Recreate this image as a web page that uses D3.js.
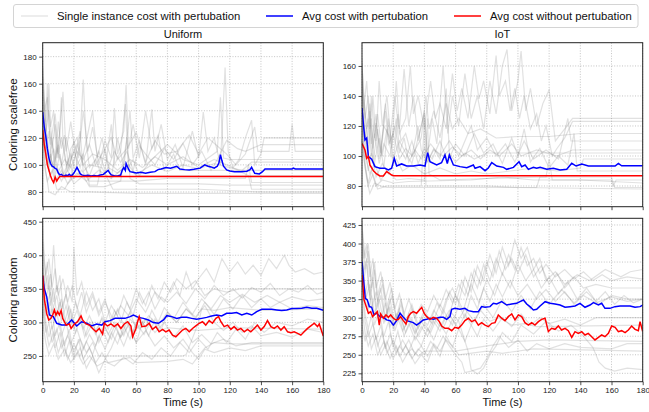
<!DOCTYPE html>
<html><head><meta charset="utf-8">
<script src="https://cdn.jsdelivr.net/npm/d3@7"></script>
<style>body{margin:0;background:#fff}svg{display:block;font-family:"Liberation Sans",Arial,Helvetica,sans-serif}</style>
</head><body>
<script>
// ---------------- DATA ----------------
const timeTicks = [0,20,40,60,80,100,120,140,160,180];
const yTicksUniformScalefree = [80,100,120,140,160,180];
const yTicksIotScalefree = [80,100,120,140,160];
const yTicksUniformRandom = [250,300,350,400,450];
const yTicksIotRandom = [225,250,275,300,325,350,375,400,425];
const columnTitles = ["Uniform","IoT"];
const rowLabels = ["Coloring scalefree","Coloring random"];
const legendLabels = ["Single instance cost with pertubation","Avg cost with pertubation","Avg cost without pertubation"];

// [time (s), cost]
const avgPertUniformScalefree = [[0,139],[1,128],[2,121],[3,112],[4,105],[5,101],[6,99],[7,98.5],[8,97.5],[9,96.8],[10,94],[11,92.6],[12,93],[13,92],[14,91.8],[15,92.5],[16,92],[17,93],[18,92],[19,92.5],[20,94],[21,96],[22,98.2],[23,96],[24,93.5],[25,92.6],[27,92],[29,92.3],[31,91.8],[33,92.2],[35,91.8],[37,92.5],[39,93],[41,95],[42,96],[43,94],[44,92.6],[46,92],[48,91.8],[50,92.5],[51,96],[52,98],[53,96],[53.5,101],[55,97],[56,95],[58,94.5],[60,94],[63,94.5],[66,93.8],[69,94.5],[72,95],[74,96.5],[76,97],[79,98],[82,97.5],[84,98.2],[86,99],[88,97],[91,96.5],[94,96.3],[97,96.8],[101,97.6],[104,100],[106,99],[108,98.5],[110,97.6],[112,99],[113,101.3],[114,107.5],[115,103],[116,99],[118,96.3],[120,95.5],[123,95],[127,95],[131,95.3],[133,96.5],[134,98.2],[135,96],[136,93.8],[139,93.3],[141,95],[142.6,97],[150,97],[160,97],[160.8,97.6],[162,97],[180,97]];
const avgNoPertUniformScalefree = [[0,126],[1,115],[2,108],[3,100],[4,96],[5,92],[6,89],[7,87],[8,91],[9,88],[10,90],[11,91.5],[180,91.5]];
const avgPertIotScalefree = [[0,132],[1,120],[1.9,110.7],[3,112],[4.1,99.6],[6.2,97.8],[8.3,92.9],[11.5,91.8],[14.7,91.8],[16.9,90.7],[19,91.8],[20.7,98.4],[22.2,93.3],[25.4,94.7],[28.6,93.3],[32.9,93.3],[37.2,94],[40.4,93.3],[42.1,102.2],[43.6,96.2],[47.9,94],[51,95.5],[53.2,100.7],[54.7,95],[56,100.7],[58.6,94],[62.9,92.9],[67.2,92.2],[71.4,94],[72.5,91.8],[75.7,92.9],[78.9,90.2],[81,92],[83.2,95.6],[86.4,93.3],[90.7,92.4],[92.8,91.1],[97.1,92.4],[100.7,96.2],[102.4,92.9],[104.6,94],[106.7,91.1],[109.9,92.4],[112,91.8],[114.2,92.4],[118.5,91.1],[122.7,91.8],[127,90.7],[131.3,91.1],[134.5,95.1],[137.3,93.3],[140.9,94.7],[145.2,93.3],[152,93.3],[162.3,93.3],[164.4,95.1],[166.5,93.5],[180,93.5]];
const avgNoPertIotScalefree = [[0,108.4],[1.9,104],[3,98.4],[4.1,99.6],[5.1,94],[7.3,90.2],[9.4,88],[11.5,86.7],[13.7,86.7],[15.8,89.6],[17.5,88.4],[19,87.3],[20.5,86.8],[180,86.8]];
const avgPertUniformRandom = [[0,369],[1,350],[2.6,338],[4.3,311],[6.8,308.6],[9,298.7],[12.2,296.2],[15.4,296],[18.6,303.6],[21.8,294.7],[25,301],[28.2,298.7],[31.4,294.7],[34.6,297.7],[37.9,296],[40,301],[43.2,302.6],[46.4,306],[49.6,306],[52.8,306],[56.1,308.6],[58.2,311],[61.4,307.5],[64.6,306],[67.8,303.6],[71,299.7],[74.2,298.7],[77.5,303.6],[79.6,310],[82.8,308.6],[86,306],[89.2,307.5],[92.4,307.5],[95.6,306],[98.8,304.6],[102,306],[105.2,307.5],[108.4,309.6],[111.6,311],[114.8,309.6],[118,313.6],[121.2,313.6],[124.4,314.6],[127.7,311],[130.9,313.6],[134.1,311],[137.3,316],[140.5,319.5],[143.7,319.5],[146.9,319.5],[150.1,318.6],[153.3,317.6],[156.6,318.6],[159.8,320.6],[163,320.6],[166.2,321],[169.4,322.6],[172.6,321],[175.8,321],[180,318]];
const avgNoPertUniformRandom = [[0,370],[1.1,334],[2.6,312.6],[3.9,303.6],[5.3,306],[6.4,311],[7.5,318.6],[8.5,311],[9.6,316],[10.7,311],[11.8,317.6],[12.8,306],[13.9,301],[15,296],[17.1,297.7],[18.2,291],[20.3,297.7],[22.4,301],[24.6,309.6],[25.6,303.6],[27.8,297.7],[29.9,296],[32,291],[34.2,286],[36.3,291],[38.4,282.6],[39.5,298.7],[41.6,294.7],[43.8,297.7],[45.9,293.7],[48.1,297.7],[50.2,291],[52.3,297.7],[54.5,301],[56.6,294.7],[57.7,278.6],[59.8,291],[60.9,301],[61.9,308.6],[63.6,293.7],[66.2,294.7],[68.3,298.7],[70.4,289.6],[72.6,293.7],[74.7,286],[76.9,289.6],[79,286],[81.1,288.6],[83.3,281],[85.4,278.6],[87.5,283.6],[89.7,288.6],[91.8,291],[94,286],[96.1,291],[98.2,294.7],[100.4,298.7],[102.5,301],[104.6,296],[106.8,302.6],[108.9,298.7],[111.1,306],[112.8,308.6],[114.3,301],[116.4,293.7],[118.6,296],[120.7,289.6],[122.8,293.7],[125,288.6],[127.1,291],[129.3,286],[131.4,289.6],[133.5,286],[135.7,291],[137.8,296],[140,288.6],[142.1,293.7],[144.2,302.6],[146.4,293.7],[148.5,291],[150.6,294.7],[152.8,288.6],[154.9,293.7],[157.1,286],[159.2,284.6],[161.3,286],[163.5,283.6],[165.6,281],[167.7,286],[169.9,291],[172,294.7],[174.2,298.7],[176.3,293.7],[177.4,297.7],[180,279.6]];
const avgPertIotRandom = [[0,375.6],[1.3,344],[2.1,326],[3.4,324],[4.7,315],[6.2,314],[7.7,303.7],[9.4,306],[11.5,301.4],[13.7,300.5],[15.8,297],[18,296],[20.1,290],[22.2,296],[24.4,306],[26.5,300.5],[28.6,296],[30.8,294.7],[32.9,293.3],[35,290],[37.2,293.3],[39.3,297],[41.5,297.8],[43.6,299.2],[45.7,297.8],[47.9,299.2],[50,300.5],[52.2,300.5],[54.3,297.8],[56.4,301.4],[57.5,311.3],[59.6,312.6],[62.8,311.3],[66,312.6],[68.2,309.5],[71.4,308.1],[74.6,308.1],[76.7,314.9],[78.9,314],[82.1,314.9],[84.2,319.4],[86.4,318.5],[89.6,321.6],[92.8,317.1],[96,318.5],[99.2,319.4],[101.3,321.6],[103.5,323.9],[105.6,318.5],[107.7,314.9],[109.9,310.4],[112,311.3],[114.2,315.8],[117.4,321.6],[120.6,319.4],[123.8,318.5],[127,317.1],[130.2,314],[133.4,314.9],[136.6,315.8],[139.8,319.4],[143,314],[146.2,317.1],[148.4,320.3],[151.6,317.1],[153.7,319.4],[155.8,312.6],[159,312.6],[162.2,314.9],[165.5,315.8],[168.7,315.8],[171.9,315.8],[175.1,314],[178.3,314.9],[180,317]];
const avgNoPertIotRandom = [[0,357.6],[1.3,324],[2.6,315.8],[4.1,306],[5.6,308.1],[6.8,301.4],[8.3,305],[9.8,308.1],[11.1,290],[12,305],[13.7,299.2],[15.4,303.7],[16.9,300.5],[18.4,303.7],[20.1,299.2],[21.8,297],[23.3,297.8],[24.8,301.4],[26.5,296],[28.2,291.5],[29.7,301.4],[31.2,306],[32.9,308.1],[35,306],[36.8,310.4],[38.3,314],[39.8,306],[41.5,301.4],[43.6,297.8],[45.7,300.5],[47.9,299.2],[49.6,294.7],[51.1,288.8],[53.2,285.7],[55.4,285.7],[57.5,282.5],[59.6,287],[61.8,285.7],[63.9,290],[66,296],[68.2,299.2],[70.3,294.7],[72.5,297],[74.6,290],[76.7,293.3],[78.9,290],[81,287.9],[83.2,292.4],[85.3,293.3],[87.4,303.7],[89.6,299.2],[91.7,296],[93.8,301.4],[96,305],[98.1,297],[100.3,303.7],[102.4,301.4],[104.5,293.3],[106.7,290],[108.8,293.3],[110.9,290],[113.1,294.7],[115.2,297.8],[117.4,299.2],[119.5,281.2],[121.6,285.7],[123.8,284.3],[125.9,288.8],[128,283.4],[130.2,285.7],[132.3,282.5],[134.5,273.5],[136.6,281.2],[138.7,278.9],[140.9,281.2],[143,276.7],[145.1,278.9],[147.3,274.4],[149.4,270],[151.6,273.5],[153.7,276.7],[155.8,274.4],[158,278.9],[160.1,288.8],[162.3,287],[164.4,281.2],[166.5,282.5],[168.7,279.8],[170.8,283.4],[172.9,288.8],[175.1,284.3],[177.2,282.5],[178.3,294.7],[180,281.2]];

// single-instance runs with pertubation, [time (s), cost]
const singleUniformScalefree = [
 [[0,178],[1,150],[2,132],[3,160],[4,128],[6,112],[8,130],[10,105],[12,150],[13,118],[15,100],[18,108],[21,95],[24,120],[26,163],[28,115],[30,98],[34,104],[38,92],[42,98],[48,94],[55,100],[60,92],[110,92],[140,92],[180,92]],
 [[0,165],[2,125],[4,140],[6,118],[8,100],[10,132],[12,112],[14,122],[17,96],[20,118],[23,105],[26,140],[29,110],[32,128],[36,100],[40,118],[44,105],[46,142],[48,108],[52,125],[53.5,159],[55,112],[58,130],[62,105],[66,140],[70,112],[74,122],[78,96],[84,108],[88,96],[140,96],[180,96]],
 [[0,150],[2,118],[4,160],[5,128],[7,140],[9,105],[11,125],[13,154],[15,110],[18,132],[22,100],[26,108],[30,85],[35,85],[40,112],[44,90],[48,120],[52,98],[56,140],[58,105],[62,118],[66,100],[70,141],[72,110],[76,130],[80,104],[85,115],[90,98],[96,125],[100,105],[103,139],[106,110],[110,120],[114,100],[117,172],[119,110],[122,98],[126,104],[130,120],[134,133],[136,100],[140,108],[142,120],[180,120]],
 [[0,140],[1,100],[3,88],[6,96],[9,82],[14,82],[18,90],[24,125],[26,95],[30,100],[38,98],[45,82],[100,82],[140,80],[180,80]],
 [[0,132],[2,112],[4,95],[6,120],[8,92],[11,108],[14,90],[18,112],[22,120],[26,100],[30,92],[36,110],[40,96],[44,130],[46,100],[50,110],[53,145],[55,98],[58,104],[62,92],[70,104],[80,115],[90,104],[100,100],[112,110],[114,150],[116,105],[120,104],[145,104],[180,104]],
 [[0,120],[2,95],[4,80],[8,78],[12,84],[18,80],[30,80],[60,79],[180,79]],
 [[0,155],[2,130],[4,110],[7,98],[10,115],[13,92],[17,104],[20,90],[25,96],[30,88],[60,88],[80,90],[130,90],[132,100],[134,87],[180,87]],
 [[0,172],[1,140],[3,150],[5,115],[8,138],[10,108],[12,120],[16,96],[20,110],[24,98],[28,118],[32,140],[35,105],[38,120],[42,98],[46,110],[50,102],[54,110],[58,96],[62,114],[66,108],[72,100],[78,112],[84,104],[90,116],[96,100],[102,110],[108,96],[112,104],[118,118],[125,112],[130,110],[140,115],[180,115]],
 [[0,128],[2,105],[5,92],[8,100],[12,88],[16,96],[20,86],[26,92],[30,84],[40,84],[50,88],[54,120],[56,90],[62,86],[100,86],[120,85],[180,85]],
 [[0,145],[2,120],[4,100],[7,112],[10,95],[14,104],[18,98],[22,110],[26,104],[30,115],[34,100],[38,108],[44,120],[48,104],[54,112],[60,124],[66,102],[72,118],[78,108],[86,110],[94,122],[100,108],[106,120],[112,114],[118,108],[124,100],[130,108],[136,128],[138,110],[158,110],[160,130],[162,110],[180,110]],
 [[0,160],[1,118],[3,100],[5,108],[8,88],[12,96],[16,86],[22,94],[28,88],[36,96],[44,90],[52,98],[60,93],[70,100],[80,95],[90,100],[100,97],[110,101],[120,98],[128,96],[134,102],[180,102]],
 [[0,135],[2,110],[4,125],[6,98],[9,112],[12,100],[15,120],[18,104],[22,115],[26,100],[32,108],[40,104],[48,96],[56,104],[64,98],[72,106],[80,100],[90,106],[100,98],[110,104],[122,98],[132,92],[134,82],[180,82]]
];
const singleIotScalefree = [
 [[0,165],[1,130],[3,150],[5,118],[7,140],[9,110],[11,150],[13,120],[16,140],[19,105],[22,150],[24,118],[27,158],[30,120],[33,140],[36,110],[40,130],[42,100],[45,125],[48,108],[52,160],[55,115],[58,140],[62,120],[66,155],[70,125],[74,140],[78,118],[82,150],[86,128],[90,160],[93,171],[96,130],[100,150],[102,170],[105,130],[108,145],[112,120],[116,135],[120,144],[124,110],[130,118],[135,125],[180,125]],
 [[0,150],[2,115],[4,100],[6,125],[8,95],[11,112],[14,92],[17,125],[20,98],[24,110],[28,102],[32,95],[36,112],[40,128],[42,96],[46,105],[50,98],[54,145],[56,102],[60,96],[66,102],[72,98],[80,102],[180,102]],
 [[0,140],[1,100],[3,85],[5,75],[8,82],[12,80],[16,79],[112,79],[114,86],[160,86],[162,79],[180,79]],
 [[0,160],[2,128],[4,105],[6,140],[8,112],[10,128],[13,100],[16,118],[20,95],[23,128],[25,110],[28,115],[32,100],[38,112],[41,140],[43,118],[46,130],[50,112],[54,135],[58,118],[62,125],[68,115],[76,118],[86,112],[100,113],[120,113],[140,115],[180,115]],
 [[0,125],[2,100],[5,88],[8,95],[12,84],[16,90],[22,84],[30,85],[40,84],[42,125],[43,88],[50,84],[80,85],[118,86],[120,98],[122,84],[140,84],[180,82]],
 [[0,155],[1,120],[3,108],[5,130],[7,95],[10,118],[12,102],[15,135],[18,108],[21,120],[24,102],[27,112],[30,96],[34,104],[38,98],[44,108],[50,100],[56,110],[62,100],[70,120],[74,104],[80,112],[86,100],[92,108],[98,96],[104,110],[110,98],[118,104],[126,98],[132,125],[134,110],[180,110]],
 [[0,132],[2,110],[4,90],[6,102],[9,86],[13,95],[17,88],[22,98],[26,90],[32,94],[40,88],[50,92],[60,88],[70,90],[80,88],[95,90],[110,92],[125,90],[140,92],[142,98],[180,98]],
 [[0,120],[2,95],[4,80],[7,88],[10,78],[16,80],[38,80],[40,125],[41,80],[80,80],[100,79],[180,78]],
 [[0,145],[2,125],[4,140],[6,108],[9,128],[11,98],[14,120],[18,112],[21,140],[24,115],[28,125],[31,160],[33,128],[36,140],[40,118],[44,150],[47,125],[50,135],[54,118],[58,155],[61,130],[64,145],[68,125],[72,160],[75,138],[78,150],[82,128],[86,167],[88,140],[92,150],[95,130],[98,145],[101,125],[104,140],[108,118],[112,128],[115,110],[118,120],[122,100],[125,105],[130,112],[135,123],[180,123]],
 [[0,138],[2,112],[4,125],[6,100],[8,115],[11,95],[14,108],[18,100],[22,125],[24,105],[28,98],[32,110],[36,95],[40,105],[45,98],[50,110],[55,96],[60,108],[66,100],[72,115],[78,102],[84,108],[90,95],[96,112],[100,100],[104,118],[108,96],[114,105],[120,92],[126,100],[132,94],[136,115],[138,90],[180,90]],
 [[0,110],[2,92],[4,82],[6,90],[9,80],[13,84],[20,82],[30,83],[70,84],[90,86],[110,84],[160,84],[161,80],[163,84],[180,84]],
 [[0,162],[1,140],[3,118],[5,135],[7,105],[9,122],[12,100],[15,130],[17,108],[20,115],[24,98],[28,105],[32,100],[36,120],[38,104],[42,96],[46,104],[52,100],[58,106],[64,100],[70,104],[76,98],[82,104],[88,100],[96,108],[102,100],[112,104],[125,100],[135,104],[180,104]]
];
const singleUniformRandom = [
 [[0,450],[1,390],[3,350],[5,372],[7,330],[9,355],[12,320],[15,342],[18,300],[21,330],[24,310],[28,345],[32,318],[36,335],[40,300],[44,325],[48,310],[52,340],[56,320],[60,350],[64,328],[68,345],[72,320],[76,338],[80,330],[86,345],[92,328],[98,350],[104,335],[110,355],[116,340],[122,350],[128,336],[134,352],[140,345],[146,358],[152,340],[158,350],[164,345],[170,355],[176,342],[180,345]],
 [[0,380],[2,340],[4,300],[6,320],[8,280],[11,300],[14,265],[17,290],[20,250],[23,275],[26,245],[30,262],[34,240],[38,255],[42,240],[56,248],[60,240],[80,242],[90,245],[96,238],[100,250],[104,262],[110,270],[120,268],[180,268]],
 [[0,410],[1,360],[3,390],[5,340],[7,415],[9,345],[11,370],[13,320],[16,355],[19,330],[20,412],[22,340],[25,360],[28,325],[32,345],[36,315],[40,335],[44,300],[48,320],[52,295],[56,315],[60,290],[66,305],[72,285],[78,300],[84,278],[90,295],[96,270],[102,282],[108,268],[116,275],[124,265],[134,270],[180,270]],
 [[0,340],[2,300],[4,278],[6,295],[8,262],[11,285],[14,250],[17,272],[20,245],[24,262],[28,232],[32,250],[36,225],[40,245],[44,262],[48,285],[52,265],[56,290],[60,270],[64,300],[68,280],[72,305],[76,290],[80,312],[86,300],[92,320],[98,305],[104,330],[110,312],[116,335],[122,320],[128,340],[134,322],[140,335],[146,322],[152,330],[160,320],[170,325],[180,322]],
 [[0,360],[2,320],[5,345],[8,305],[11,330],[14,300],[17,325],[20,290],[24,310],[28,280],[32,300],[36,270],[40,292],[44,275],[48,298],[52,280],[56,305],[62,290],[68,310],[74,295],[80,315],[86,300],[92,320],[98,308],[104,325],[110,300],[116,288],[122,300],[128,285],[134,295],[140,280],[150,285],[160,278],[170,290],[180,285]],
 [[0,300],[2,270],[4,252],[7,268],[10,245],[14,260],[18,240],[22,255],[26,238],[30,250],[35,235],[40,242],[46,235],[52,248],[58,238],[64,255],[70,245],[76,262],[82,250],[88,270],[94,255],[100,275],[106,260],[112,285],[118,270],[124,290],[130,275],[136,300],[142,285],[150,300],[160,295],[170,305],[180,300]],
 [[0,420],[2,370],[4,395],[6,352],[8,380],[10,340],[13,365],[16,330],[19,355],[22,320],[25,345],[28,315],[32,340],[36,310],[40,330],[45,305],[50,325],[55,310],[60,335],[66,315],[72,345],[78,330],[84,360],[88,340],[92,375],[96,350],[100,365],[105,380],[110,360],[115,395],[120,375],[125,390],[130,372],[135,385],[140,370],[145,395],[150,380],[155,400],[158,385],[162,375],[168,380],[174,372],[180,375]],
 [[0,330],[2,290],[4,265],[7,285],[10,255],[13,275],[16,245],[20,268],[24,250],[28,272],[32,252],[36,280],[40,260],[44,285],[48,268],[52,295],[56,275],[60,300],[65,282],[70,305],[75,288],[80,292],[90,290],[100,288],[110,290],[120,292],[180,290]],
 [[0,395],[1,350],[3,370],[5,325],[7,350],[9,310],[12,335],[15,295],[18,320],[21,285],[24,305],[27,278],[30,300],[34,282],[38,308],[42,290],[46,318],[50,300],[54,330],[58,310],[62,345],[66,325],[70,355],[74,335],[78,360],[82,345],[86,365],[92,350],[98,362],[104,340],[110,350],[118,345],[126,350],[180,350]],
 [[0,350],[2,310],[4,330],[6,290],[9,315],[12,280],[15,300],[18,268],[22,290],[26,260],[30,282],[34,265],[38,290],[42,270],[46,295],[50,278],[54,300],[58,285],[62,310],[66,292],[70,318],[74,300],[78,322],[84,305],[90,330],[96,312],[102,335],[108,320],[114,340],[120,330],[128,342],[136,330],[144,340],[152,330],[160,338],[170,332],[180,335]],
 [[0,375],[2,335],[4,355],[6,315],[9,340],[12,302],[15,325],[18,295],[22,318],[26,290],[30,310],[34,288],[38,305],[42,282],[46,300],[50,278],[55,295],[60,270],[66,288],[72,265],[78,280],[84,262],[90,275],[96,255],[100,245],[104,260],[110,255],[120,262],[130,258],[140,265],[180,265]],
 [[0,320],[2,285],[4,300],[6,270],[9,290],[12,262],[16,280],[20,258],[24,275],[28,255],[32,270],[36,250],[90,250],[92,252],[100,300],[102,320],[110,318],[120,322],[140,318],[180,320]]
];
const singleIotRandom = [
 [[0,425],[2,380],[4,400],[6,350],[8,375],[10,330],[13,355],[16,315],[19,340],[22,300],[25,325],[28,295],[32,318],[36,290],[40,310],[44,295],[48,320],[52,305],[56,335],[60,318],[64,350],[68,330],[72,365],[76,345],[80,375],[84,355],[88,390],[92,365],[96,380],[100,360],[105,385],[110,355],[115,370],[120,345],[125,360],[130,340],[136,355],[142,340],[150,345],[160,340],[180,340]],
 [[0,380],[2,340],[4,310],[6,330],[8,290],[11,310],[14,275],[17,295],[20,260],[23,282],[26,255],[30,270],[34,250],[38,262],[42,248],[46,265],[50,255],[54,270],[58,262],[62,250],[80,255],[90,252],[110,258],[180,255]],
 [[0,400],[1,360],[3,380],[5,330],[7,355],[9,315],[12,340],[15,300],[18,325],[21,290],[24,312],[27,285],[30,305],[34,280],[38,300],[42,290],[46,310],[50,298],[54,325],[58,340],[62,320],[66,355],[70,335],[74,370],[78,350],[82,385],[86,360],[90,395],[94,370],[98,405],[102,380],[106,395],[110,365],[114,380],[118,350],[124,362],[130,345],[138,358],[146,350],[156,365],[166,355],[172,362],[180,365]],
 [[0,330],[2,295],[4,275],[7,292],[10,262],[13,280],[16,252],[20,270],[24,248],[28,262],[32,245],[36,258],[40,250],[44,268],[48,258],[52,275],[56,262],[60,250],[64,240],[66,226],[70,228],[76,232],[80,245],[84,262],[88,275],[94,260],[100,270],[106,255],[112,265],[120,258],[130,265],[140,260],[160,258],[170,265],[180,265]],
 [[0,360],[2,322],[5,345],[8,305],[11,325],[14,292],[17,315],[20,285],[24,305],[28,280],[32,298],[36,275],[40,292],[44,280],[48,300],[52,285],[56,305],[60,290],[66,312],[72,295],[78,318],[84,300],[90,325],[96,308],[102,330],[108,312],[114,335],[120,318],[128,338],[136,320],[144,335],[152,318],[160,330],[170,325],[180,325]],
 [[0,310],[2,280],[4,262],[7,278],[10,250],[14,268],[18,245],[22,262],[26,240],[30,255],[34,238],[38,250],[42,240],[46,262],[50,248],[54,275],[58,260],[62,285],[66,268],[70,290],[74,275],[78,298],[84,282],[90,300],[96,288],[102,305],[108,290],[114,300],[120,292],[130,298],[140,290],[150,300],[180,300]],
 [[0,415],[2,365],[4,390],[6,340],[8,365],[10,322],[13,345],[16,305],[19,330],[22,298],[25,318],[28,290],[32,312],[36,285],[40,305],[45,292],[50,318],[55,300],[60,330],[65,310],[70,345],[75,320],[80,352],[85,330],[90,360],[95,340],[100,372],[105,350],[110,365],[115,340],[120,355],[126,332],[132,348],[138,325],[144,340],[150,322],[156,335],[162,318],[168,330],[174,320],[180,325]],
 [[0,345],[2,305],[4,285],[6,302],[9,270],[12,290],[15,258],[18,278],[22,252],[26,270],[30,255],[34,275],[38,262],[42,285],[46,270],[50,292],[54,278],[58,298],[62,285],[66,305],[70,290],[76,310],[82,295],[88,300],[96,290],[104,292],[112,288],[180,290]],
 [[0,370],[2,332],[4,350],[6,312],[9,335],[12,298],[15,320],[18,288],[22,305],[26,282],[30,298],[34,278],[38,295],[42,282],[46,300],[50,288],[56,310],[62,295],[68,255],[70,230],[74,224],[78,232],[82,250],[86,262],[90,280],[96,268],[102,290],[110,278],[118,295],[126,282],[134,290],[142,275],[148,260],[152,240],[156,232],[162,228],[170,232],[180,230]],
 [[0,395],[1,350],[3,372],[5,325],[7,348],[9,308],[12,330],[15,295],[18,315],[21,282],[24,302],[27,275],[30,292],[34,270],[38,288],[42,275],[46,295],[50,282],[54,302],[58,290],[62,318],[66,300],[70,330],[74,312],[78,340],[82,322],[86,345],[90,328],[95,350],[100,330],[106,345],[112,325],[118,338],[124,322],[130,335],[136,318],[142,330],[150,320],[160,328],[170,322],[180,325]],
 [[0,290],[2,268],[4,285],[6,258],[9,275],[12,250],[16,268],[20,245],[24,262],[28,250],[32,258],[36,248],[40,255],[60,255],[80,262],[100,268],[120,270],[180,268]],
 [[0,430],[1,380],[3,400],[5,355],[7,380],[9,340],[12,362],[15,325],[18,348],[21,312],[24,332],[27,305],[30,325],[34,300],[38,318],[42,308],[46,330],[50,315],[54,338],[58,320],[62,345],[66,330],[70,360],[74,340],[78,372],[82,350],[86,380],[90,358],[94,385],[98,365],[102,395],[106,370],[110,380],[114,360],[118,372],[124,355],[130,365],[136,352],[142,362],[148,350],[154,358],[160,350],[170,355],[180,352]]
];

// ---------------- DRAW ----------------
const W = 649, H = 412;
const svg = d3.select("body").append("svg").attr("width", W).attr("height", H);
const colX = [[42.7, 323.3], [362, 642.7]];
const rowY = [[42.7, 206.7], [218.3, 381.7]];
const panels = [
  {c:0, r:0, dom:[69.1,190.3], ticks:yTicksUniformScalefree, gray:singleUniformScalefree, blue:avgPertUniformScalefree, red:avgNoPertUniformScalefree},
  {c:1, r:0, dom:[66.2,175.5], ticks:yTicksIotScalefree, gray:singleIotScalefree, blue:avgPertIotScalefree, red:avgNoPertIotScalefree},
  {c:0, r:1, dom:[211.7,455], ticks:yTicksUniformRandom, gray:singleUniformRandom, blue:avgPertUniformRandom, red:avgNoPertUniformRandom},
  {c:1, r:1, dom:[213.7,434], ticks:yTicksIotRandom, gray:singleIotRandom, blue:avgPertIotRandom, red:avgNoPertIotRandom}
];

panels.forEach((p, i) => {
  const [x0, x1] = colX[p.c], [y0, y1] = rowY[p.r];
  const x = d3.scaleLinear().domain([0, 180]).range([x0, x1]);
  const y = d3.scaleLinear().domain(p.dom).range([y1, y0]);
  const clipId = "clip" + i;
  svg.append("clipPath").attr("id", clipId).append("rect")
    .attr("x", x0).attr("y", y0).attr("width", x1 - x0).attr("height", y1 - y0);
  const g = svg.append("g");
  // grid
  g.selectAll(".gx").data(timeTicks).join("line")
    .attr("x1", d => x(d)).attr("x2", d => x(d)).attr("y1", y0).attr("y2", y1)
    .attr("stroke", "#b5b5b5").attr("stroke-width", 0.8).attr("stroke-dasharray", "1,1.6");
  g.selectAll(".gy").data(p.ticks).join("line")
    .attr("y1", d => y(d)).attr("y2", d => y(d)).attr("x1", x0).attr("x2", x1)
    .attr("stroke", "#b5b5b5").attr("stroke-width", 0.8).attr("stroke-dasharray", "1,1.6");
  const line = d3.line().x(d => x(d[0])).y(d => y(d[1]));
  const lg = g.append("g").attr("clip-path", `url(#${clipId})`);
  p.gray.forEach(s => lg.append("path").attr("d", line(s)).attr("fill", "none")
    .attr("stroke", "#808080").attr("stroke-opacity", 0.24).attr("stroke-width", 1.2));
  lg.append("path").attr("d", line(p.blue)).attr("fill", "none").attr("stroke", "#0000ff").attr("stroke-width", 1.5);
  lg.append("path").attr("d", line(p.red)).attr("fill", "none").attr("stroke", "#ff0000").attr("stroke-width", 1.5);
  // axes
  const ya = g.append("g").attr("transform", `translate(${x0},0)`)
    .call(d3.axisLeft(y).tickValues(p.ticks).tickSize(3.5).tickPadding(2.5));
  const xa = g.append("g").attr("transform", `translate(0,${y1})`)
    .call(d3.axisBottom(x).tickValues(timeTicks).tickSize(3.5).tickPadding(2.5));
  if (p.r === 0) xa.selectAll("text").remove();
  [ya, xa].forEach(a => {
    a.select(".domain").remove();
    a.selectAll("line").attr("stroke", "#222").attr("stroke-width", 0.8);
    a.selectAll("text").attr("font-size", "8px").attr("fill", "#222")
      .attr("font-family", '"Liberation Sans",Arial,sans-serif');
  });
  g.append("rect").attr("x", x0).attr("y", y0).attr("width", x1 - x0).attr("height", y1 - y0)
    .attr("fill", "none").attr("stroke", "#222").attr("stroke-width", 1);
  if (p.r === 0) {
    g.append("text").attr("x", (x0 + x1) / 2).attr("y", 38).attr("text-anchor", "middle")
      .attr("font-size", "11px").attr("fill", "#111").text(columnTitles[p.c]);
  } else {
    g.append("text").attr("x", (x0 + x1) / 2).attr("y", 406).attr("text-anchor", "middle")
      .attr("font-size", "11px").attr("fill", "#111").text("Time (s)");
  }
  if (p.c === 0) {
    g.append("text").attr("transform", `translate(17,${(y0 + y1) / 2}) rotate(-90)`)
      .attr("text-anchor", "middle").attr("font-size", "11.5px").attr("fill", "#111").text(rowLabels[p.r]);
  }
});

// legend
const lgd = svg.append("g");
lgd.append("rect").attr("x", 13.5).attr("y", 4.5).attr("width", 624.5).attr("height", 23).attr("rx", 2.5)
  .attr("fill", "#fff").attr("stroke", "#d4d4d4").attr("stroke-width", 1);
const legendItems = [
  {x: 21, color: "#808080", op: 0.24},
  {x: 266, color: "#0000ff", op: 1},
  {x: 454, color: "#ff0000", op: 1}
];
legendItems.forEach((it, k) => {
  lgd.append("line").attr("x1", it.x).attr("x2", it.x + 27).attr("y1", 16).attr("y2", 16)
    .attr("stroke", it.color).attr("stroke-opacity", it.op).attr("stroke-width", k === 0 ? 1.2 : 1.5);
  lgd.append("text").attr("x", it.x + 36).attr("y", 20).attr("font-size", "11.3px").attr("fill", "#111")
    .text(legendLabels[k]);
});
</script>
</body></html>
